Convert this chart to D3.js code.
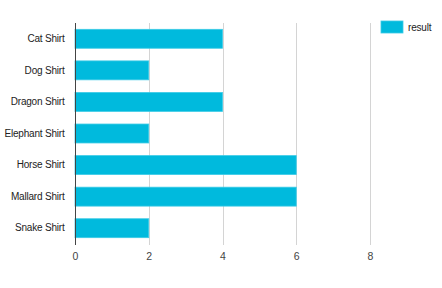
<!DOCTYPE html>
<html>
<head>
<meta charset="utf-8">
<script src="https://cdn.jsdelivr.net/npm/d3@7"></script>
<style>
  body { margin: 0; background: #fff; }
  text { font-family: "Liberation Sans", Arial, sans-serif; }
</style>
</head>
<body>
<div id="chart"></div>
<script>
// data
const categories = ['Cat Shirt', 'Dog Shirt', 'Dragon Shirt', 'Elephant Shirt', 'Horse Shirt', 'Mallard Shirt', 'Snake Shirt'];
const resultValues = [4, 2, 4, 2, 6, 6, 2];
const xTicks = [0, 2, 4, 6, 8];
const seriesName = 'result';

const width = 442, height = 288;
const margin = {top: 23, right: 72, bottom: 44, left: 75};
const barColor = '#00badd';
const fontFamily = '"Liberation Sans", Arial, sans-serif';

const svg = d3.select('#chart').append('svg')
    .attr('width', width)
    .attr('height', height);

const scaleX = d3.scaleLinear([0, 8], [margin.left, width - margin.right]);
const scaleY = d3.scaleBand(categories, [margin.top, height - margin.bottom])
    .paddingInner(0.4)
    .paddingOuter(0.2);

// grid lines
svg.append('g')
    .selectAll('line')
    .data(xTicks.slice(1))
    .join('line')
    .attr('x1', d => Math.round(scaleX(d)) + 0.5)
    .attr('x2', d => Math.round(scaleX(d)) + 0.5)
    .attr('y1', margin.top)
    .attr('y2', height - margin.bottom + 1)
    .attr('stroke', '#d4d4d4')
    .attr('stroke-width', 1);

// bars
const data = categories.map((c, i) => ({name: c, value: resultValues[i]}));
svg.append('g')
    .selectAll('rect')
    .data(data)
    .join('rect')
    .attr('x', scaleX(0))
    .attr('y', d => scaleY(d.name))
    .attr('width', d => scaleX(d.value) - scaleX(0))
    .attr('height', scaleY.bandwidth())
    .attr('fill', barColor)
    .attr('stroke', '#3ccbe6')
    .attr('stroke-width', 0.8);

// x axis
const axisX = svg.append('g')
    .attr('transform', `translate(0,${height - margin.bottom})`)
    .call(d3.axisBottom(scaleX).tickValues(xTicks).tickSize(0).tickPadding(9).tickFormat(d3.format('d')));
axisX.select('.domain').remove();
axisX.selectAll('text')
    .attr('font-size', 10.5)
    .attr('fill', '#444')
    .attr('font-family', fontFamily);

// y axis
const axisY = svg.append('g')
    .attr('transform', `translate(${Math.round(scaleX(0)) + 0.5},0)`)
    .call(d3.axisLeft(scaleY).tickSize(0).tickPadding(11));
axisY.select('.domain')
    .attr('d', `M0,${margin.top}V${height - margin.bottom + 1}`)
    .attr('stroke', '#444');
axisY.selectAll('text')
    .attr('font-size', 10)
    .attr('letter-spacing', -0.2)
    .attr('fill', '#222')
    .attr('font-family', fontFamily);

// legend
const legend = svg.append('g').attr('transform', 'translate(381,21)');
legend.append('rect')
    .attr('width', 22)
    .attr('height', 12)
    .attr('fill', barColor)
    .attr('stroke', '#3ccbe6')
    .attr('stroke-width', 0.8);
legend.append('text')
    .attr('x', 27)
    .attr('y', 10)
    .attr('font-size', 10)
    .attr('letter-spacing', -0.2)
    .attr('fill', '#222')
    .attr('font-family', fontFamily)
    .text(seriesName);
</script>
</body>
</html>
